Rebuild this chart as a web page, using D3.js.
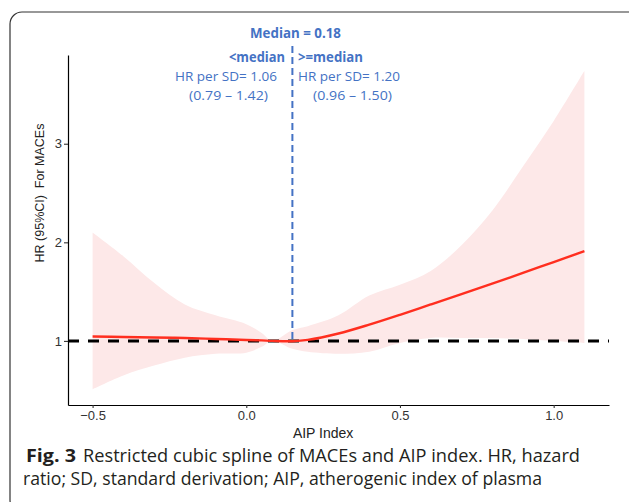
<!DOCTYPE html>
<html>
<head>
<meta charset="utf-8">
<script src="https://cdn.jsdelivr.net/npm/d3@7"></script>
<style>
  html, body { margin: 0; padding: 0; background: #fff; }
  svg { display: block; }
</style>
</head>
<body>
<script>
// spline estimates
const aip = [-0.5, -0.4, -0.3, -0.2, -0.1, 0, 0.05, 0.085, 0.15, 0.2, 0.3, 0.4, 0.5, 0.6, 0.7, 0.8, 0.9, 1.0, 1.1];
const hr = [1.045, 1.04, 1.035, 1.03, 1.02, 1.01, 1.005, 1.0, 0.997, 1.01, 1.075, 1.165, 1.265, 1.37, 1.475, 1.58, 1.69, 1.8, 1.91];
const upper = [2.1, 1.86, 1.59, 1.37, 1.26, 1.17, 1.08, 1.0, 1.11, 1.15, 1.26, 1.46, 1.57, 1.71, 1.97, 2.32, 2.77, 3.23, 3.74];
const lower = [0.51, 0.65, 0.75, 0.83, 0.87, 0.88, 0.94, 1.0, 0.92, 0.89, 0.87, 0.89, 0.98, 1.03, 1.03, 1.03, 1.02, 1.0, 0.98];

const xTicks = [-0.5, 0, 0.5, 1.0];
const yTicks = [1, 2, 3];
const medianLine = 0.15; // where the dashed line is drawn
const refHR = 1;

const w = 629;
const h = 502;
const blue = '#4472c4';

const points = aip.map((x, i) => ({ x, hr: hr[i], lo: lower[i], hi: upper[i] }));

const svg = d3.select('body').append('svg').attr('width', w).attr('height', h);

// rounded frame (runs off the right edge)
svg.append('rect')
  .attr('x', 10).attr('y', 12)
  .attr('width', 700).attr('height', 500)
  .attr('rx', 12)
  .attr('fill', 'none')
  .attr('stroke', '#333')
  .attr('stroke-width', 1.2);

const x = d3.scaleLinear().domain([-0.58, 1.18]).range([68, 609]);
const y = d3.scaleLinear().domain([0.35, 3.9]).range([405, 55]);

// ribbon
svg.append('path')
  .datum(points)
  .attr('fill', '#fde8e8')
  .attr('d', d3.area()
    .curve(d3.curveCatmullRom)
    .x((d) => x(d.x))
    .y0((d) => y(d.lo))
    .y1((d) => y(d.hi)));

// reference line HR = 1
svg.append('line')
  .attr('x1', x(-0.58)).attr('x2', x(1.18))
  .attr('y1', y(refHR)).attr('y2', y(refHR))
  .attr('stroke', '#000')
  .attr('stroke-width', 3)
  .attr('stroke-dasharray', '11 9');

// spline
svg.append('path')
  .datum(points)
  .attr('fill', 'none')
  .attr('stroke', '#ff2e1f')
  .attr('stroke-width', 2.4)
  .attr('d', d3.line()
    .curve(d3.curveCatmullRom)
    .x((d) => x(d.x))
    .y((d) => y(d.hr)));

// median line
svg.append('line')
  .attr('x1', x(medianLine)).attr('x2', x(medianLine))
  .attr('y1', 46).attr('y2', y(refHR))
  .attr('stroke', blue)
  .attr('stroke-width', 2)
  .attr('stroke-dasharray', '7 4');

// axes
const yAxis = svg.append('g')
  .attr('transform', 'translate(68,0)')
  .call(d3.axisLeft(y).tickValues(yTicks).tickFormat(d3.format('d')).tickSize(4).tickSizeOuter(0).tickPadding(2));

const xAxis = svg.append('g')
  .attr('transform', 'translate(0,405)')
  .call(d3.axisBottom(x).tickValues(xTicks).tickFormat(d3.format('.1f')).tickSize(3).tickSizeOuter(0).tickPadding(3));

[yAxis, xAxis].forEach((g) => {
  g.attr('font-size', 13).attr('font-family', 'Liberation Sans, Arial, sans-serif');
  g.select('.domain').attr('stroke', '#000').attr('stroke-width', 1.2);
  g.selectAll('.tick line').attr('stroke', '#333').attr('stroke-width', 1.1);
  g.selectAll('.tick text').attr('fill', '#333');
});

svg.append('text')
  .attr('x', x(0.25)).attr('y', 438)
  .attr('text-anchor', 'middle')
  .attr('font-family', 'Liberation Sans, Arial, sans-serif')
  .attr('font-size', 14)
  .attr('fill', '#222')
  .text('AIP Index');

svg.append('text')
  .attr('transform', 'translate(44,193) rotate(-90)')
  .attr('text-anchor', 'middle')
  .attr('font-family', 'Liberation Sans, Arial, sans-serif')
  .attr('font-size', 12.5)
  .attr('fill', '#222')
  .style('white-space', 'pre')
  .text('HR (95%CI)  For MACEs');

// annotations
const notes = [
  { t: 'Median = 0.18', x: 250, y: 38, len: 91, bold: true },
  { t: '<median', x: 229, y: 62, len: 56, bold: true },
  { t: '>=median', x: 298, y: 62, len: 65, bold: true },
  { t: 'HR per SD= 1.06', x: 175, y: 81, len: 102 },
  { t: 'HR per SD= 1.20', x: 298, y: 81, len: 102 },
  { t: '(0.79 \u2013 1.42)', x: 189, y: 100, len: 79 },
  { t: '(0.96 \u2013 1.50)', x: 313, y: 100, len: 79 },
];

svg.selectAll('text.note')
  .data(notes)
  .enter()
  .append('text')
  .attr('class', 'note')
  .attr('x', (d) => d.x)
  .attr('y', (d) => d.y)
  .attr('font-family', 'Open Sans, sans-serif')
  .attr('font-size', 13.5)
  .attr('font-weight', (d) => (d.bold ? 700 : 400))
  .attr('fill', blue)
  .attr('textLength', (d) => d.len)
  .attr('lengthAdjust', 'spacingAndGlyphs')
  .text((d) => d.t);

// caption
const caption = [
  { t: 'Fig. 3', x: 26, y: 462, len: 50, bold: true },
  { t: 'Restricted cubic spline of MACEs and AIP index. HR, hazard', x: 83, y: 462, len: 497 },
  { t: 'ratio; SD, standard derivation; AIP, atherogenic index of plasma', x: 23, y: 485, len: 519 },
];

svg.selectAll('text.cap')
  .data(caption)
  .enter()
  .append('text')
  .attr('class', 'cap')
  .attr('x', (d) => d.x)
  .attr('y', (d) => d.y)
  .attr('font-family', 'Open Sans, sans-serif')
  .attr('font-size', 18.5)
  .attr('font-weight', (d) => (d.bold ? 700 : 400))
  .attr('fill', '#231f20')
  .attr('textLength', (d) => d.len)
  .attr('lengthAdjust', 'spacingAndGlyphs')
  .text((d) => d.t);
</script>
</body>
</html>
